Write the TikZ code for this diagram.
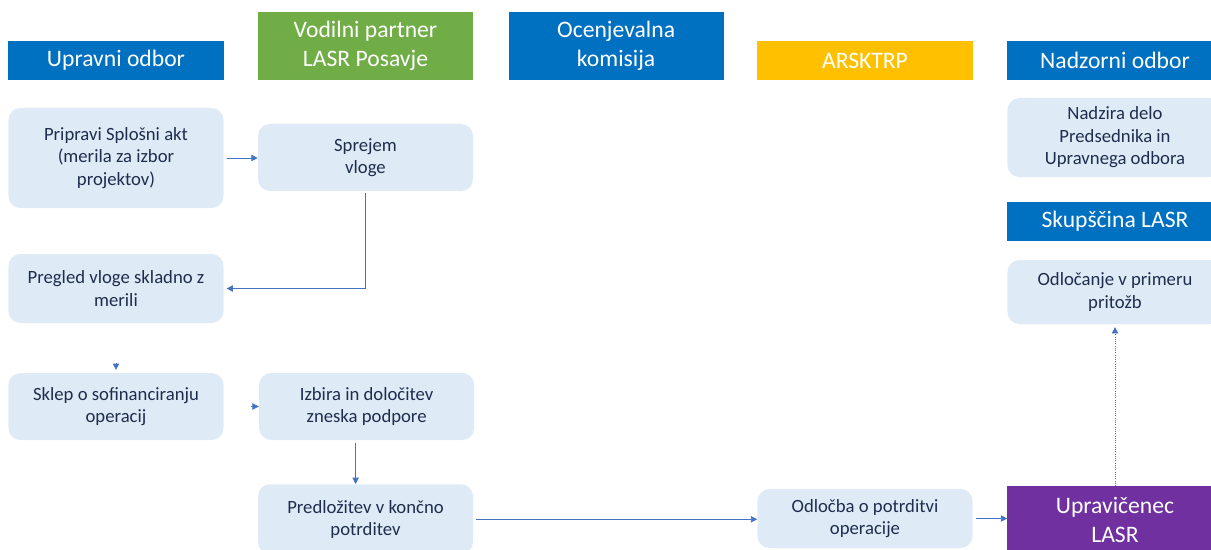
\documentclass[tikz,border=0pt]{standalone}
\usepackage{fontspec}
\setmainfont{Carlito}
\usetikzlibrary{positioning,arrows.meta,calc}
\definecolor{headblue}{HTML}{0070C0}
\definecolor{headgreen}{HTML}{70AD47}
\definecolor{headyellow}{HTML}{FFC000}
\definecolor{headpurple}{HTML}{7030A0}
\definecolor{stepfill}{HTML}{DEEBF7}
\definecolor{steptext}{HTML}{1F2D4D}
\definecolor{linkcolor}{HTML}{4472C4}

\begin{document}
\begin{tikzpicture} [
			x=0.025cm,y=-0.025cm,
			head/.style={fill=headblue,text=white,minimum width=5.375cm,minimum height=0.975cm,align=center,inner sep=0pt,font=\fontsize{16.8}{20.5}\selectfont},
			stepbox/.style={fill=stepfill,text=steptext,rounded corners=0.3cm,minimum width=5.375cm,align=center,inner sep=0pt,font=\fontsize{13.3}{16}\selectfont},
			link/.style={-{Triangle[length=4.5pt,width=4.5pt]},draw=linkcolor,line width=0.6pt},
			node distance=0.875cm,
		]
		
		\useasboundingbox (0,0) rectangle (1211,549);
		\clip (0,0) rectangle (1211,549);
		
		% column heads
		\node[head] (upravni) at (116,60.5) {Upravni odbor};
		\node[head,fill=headgreen,minimum height=1.7cm] (vodilni) at (365.5,46) {Vodilni partner\\LASR Posavje};
		\node[head,minimum height=1.7cm] (komisija) [right=of vodilni] {Ocenjevalna\\komisija};
		\node[head,fill=headyellow] (arsktrp) at (865,60.5) {ARSKTRP};
		\node[head] (nadzorni) at (1115,60.5) {Nadzorni odbor};
		\node[head] (skupscina) at (1115,221.5) {Skupščina LASR};
		\node[head,fill=headpurple,minimum height=1.7cm,anchor=north] (upravicenec) at (1115,486) {Upravičenec\\LASR};
		
		% steps
		\node[stepbox,minimum height=2.5cm] (akt) at (116,158) {Pripravi Splošni akt\\(merila za izbor\\projektov)};
		\node[stepbox,minimum height=1.675cm] (sprejem) at (365.5,157.5) {Sprejem\\vloge};
		\node[stepbox,minimum height=1.725cm] (pregled) at (116,288.5) {Pregled vloge skladno z\\merili};
		\node[stepbox,minimum height=1.675cm] (sklep) at (116,406.5) {Sklep o sofinanciranju\\operacij};
		\node[stepbox,minimum height=1.675cm] (izbira) [right=of sklep] {Izbira in določitev\\zneska podpore};
		\node[stepbox,minimum height=1.75cm,anchor=north] (predlozitev) at (365.5,484) {Predložitev v končno\\potrditev};
		\node[stepbox,minimum height=1.475cm] (odlocba) at (865,518.5) {Odločba o potrditvi\\operacije};
		\node[stepbox,minimum height=1.975cm] (nadzira) at (1115,137.5) {Nadzira delo\\Predsednika in\\Upravnega odbora};
		\node[stepbox,minimum height=1.6cm] (odlocanje) at (1115,292) {Odločanje v primeru\\pritožb};
		
		\draw[link,shorten <=2pt] (akt.east) -- (akt.east -| sprejem.west);
		\draw[link,shorten <=1.5pt,shorten >=2pt] (sprejem.south) |- (pregled.east);
		\draw[link,shorten <=28pt,shorten >=2pt] (pregled) -- (sklep);
		\draw[link,shorten <=19.5pt] (sklep) -- (izbira);
		\draw[link,shorten <=2pt] ([xshift=-0.275cm]izbira.south) -- ([xshift=-0.275cm]izbira.south |- predlozitev.north);
		\draw[link,shorten <=2pt] (predlozitev.east) -- (predlozitev.east -| odlocba.west);
		\draw[link,shorten <=2pt] (odlocba.east) -- (odlocba.east -| upravicenec.west);
		\draw[link,densely dotted,shorten >=2pt] (upravicenec) -- (odlocanje);
		
	\end{tikzpicture}
\end{document}
